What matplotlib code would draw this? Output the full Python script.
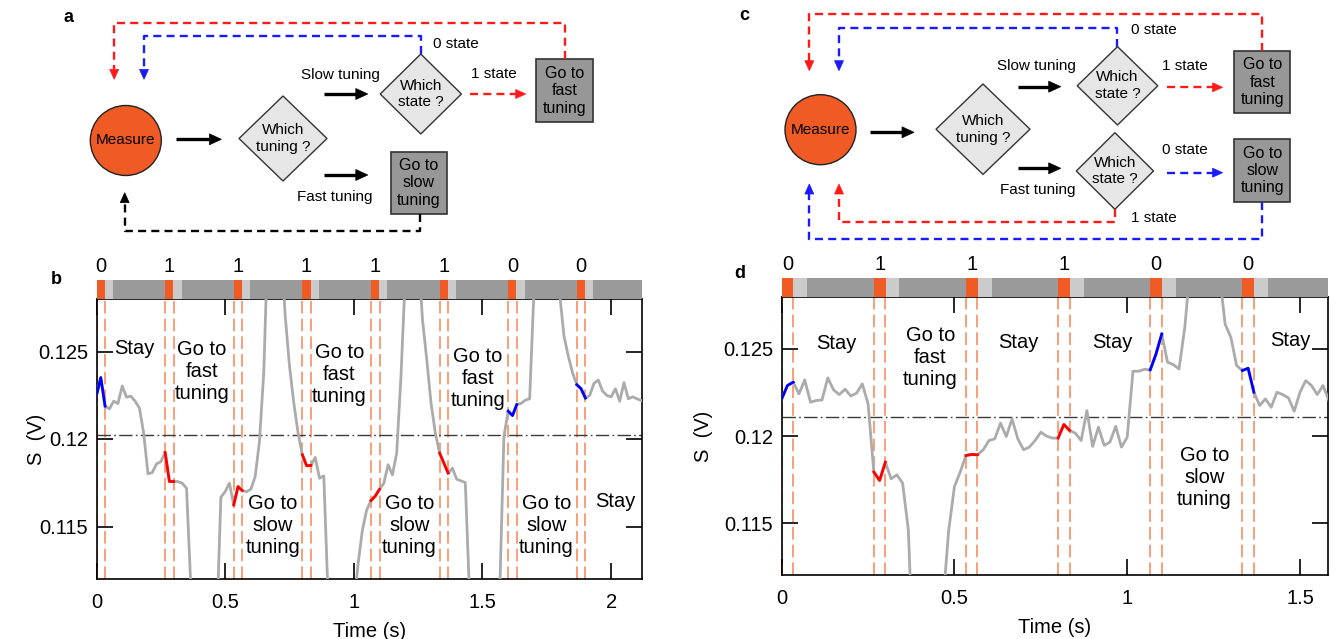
import numpy as np
import matplotlib
matplotlib.use('Agg')
import matplotlib.pyplot as plt
from matplotlib.patches import Ellipse, Polygon, Rectangle

plt.rcParams['font.family'] = ['Liberation Sans', 'DejaVu Sans']

# ---------------- data ----------------
DT = 1 / 60.0          # sampling interval of the trace (s)
WIN = 2                # samples in each measurement window

# panel b : slow/fast tuning protocol 1
b_signal = [0.12249, 0.12351, 0.12188, 0.12172, 0.12216, 0.12203, 0.12303, 0.12239,
            0.12245, 0.12216, 0.12178, 0.12034, 0.11801, 0.11808, 0.11858, 0.11870,
            0.11923, 0.11757, 0.11757, 0.11757, 0.11747, 0.11718, 0.1115, 0.1085,
            0.1070, 0.1060, 0.1060, 0.1070, 0.1091, 0.11667, 0.11699, 0.11747,
            0.11623, 0.11728, 0.11705, 0.11699, 0.11713, 0.11785, 0.11987, 0.12379,
            0.1317, 0.1340, 0.1345, 0.1314, 0.12705, 0.12418, 0.12207, 0.12035,
            0.11910, 0.11847, 0.11849, 0.11895, 0.11776, 0.11789, 0.1110, 0.1080,
            0.1065, 0.1060, 0.1065, 0.1080, 0.1103, 0.11287, 0.11479, 0.11594,
            0.11648, 0.11674, 0.11713, 0.11747, 0.11853, 0.11795, 0.11920, 0.12360,
            0.1293, 0.1330, 0.1335, 0.1308, 0.12686, 0.12456, 0.12207, 0.12035,
            0.11920, 0.11862, 0.11805, 0.11833, 0.11770, 0.11761, 0.11751, 0.1110,
            0.1080, 0.1065, 0.1060, 0.1065, 0.1080, 0.1095, 0.1110, 0.12015,
            0.12159, 0.12134, 0.12197, 0.12203, 0.12222, 0.12230, 0.1284, 0.1320,
            0.1335, 0.1340, 0.1335, 0.1320, 0.1283, 0.12590, 0.12475, 0.12379,
            0.12310, 0.12287, 0.12234, 0.12249, 0.12318, 0.12337, 0.12274, 0.12249,
            0.12241, 0.12287, 0.12216, 0.12322, 0.12230, 0.12241, 0.12230, 0.12220]
b_events = [0.0, 0.2667, 0.5333, 0.8, 1.0667, 1.3333, 1.6, 1.8667]
b_states = [0, 1, 1, 1, 1, 1, 0, 0]
b_threshold = 0.12025
b_texts = ["Stay", "Go to\nfast\ntuning", "Go to\nslow\ntuning", "Go to\nfast\ntuning",
           "Go to\nslow\ntuning", "Go to\nfast\ntuning", "Go to\nslow\ntuning", "Stay"]

# panel d : protocol 2
d_signal = [0.12213, 0.12290, 0.12309, 0.12242, 0.12322, 0.12194, 0.12204, 0.12207,
            0.12334, 0.12265, 0.12238, 0.12269, 0.12230, 0.12246, 0.12299, 0.12185,
            0.11793, 0.11745, 0.11850, 0.11754, 0.11777, 0.11729, 0.11458, 0.1056,
            0.1040, 0.1035, 0.1040, 0.1060, 0.1104, 0.11458, 0.11710, 0.11793,
            0.11888, 0.11894, 0.11892, 0.11921, 0.11974, 0.11984, 0.12074, 0.11997,
            0.12098, 0.11984, 0.11921, 0.11936, 0.11974, 0.12022, 0.11999, 0.11988,
            0.11988, 0.12066, 0.12032, 0.12016, 0.11974, 0.12146, 0.11940, 0.12051,
            0.11946, 0.11965, 0.12055, 0.11936, 0.11993, 0.12372, 0.12372, 0.12383,
            0.12380, 0.12471, 0.12586, 0.12424, 0.12410, 0.12385, 0.12624, 0.1299,
            0.1315, 0.1320, 0.1318, 0.1310, 0.1294, 0.12643, 0.12567, 0.12404,
            0.12376, 0.12389, 0.12251, 0.12175, 0.12213, 0.12165, 0.12251, 0.12238,
            0.12219, 0.12142, 0.12251, 0.12318, 0.12290, 0.12238, 0.12290, 0.12207]
d_events = [0.0, 0.2667, 0.5333, 0.8, 1.0667, 1.3333]
d_states = [0, 1, 1, 1, 0, 0]
d_threshold = 0.12109
d_texts = ["Stay", "Go to\nfast\ntuning", "Stay", "Stay", "Go to\nslow\ntuning", "Stay"]

# ---------------- layout / style ----------------
b_text_pos = [(0.146, 0.12519), (0.41, 0.12383), (0.685, 0.11507), (0.944, 0.12370),
              (1.216, 0.11507), (1.483, 0.12345), (1.749, 0.11507), (2.015, 0.11641)]
d_text_pos = [(0.157, 0.12532), (0.430, 0.12452), (0.686, 0.12538), (0.957, 0.12538),
              (1.223, 0.11764), (1.472, 0.12548)]

ORANGE = '#F05A24'
LIGHT = '#CBCBCB'
DARK = '#9A9A9A'
VLINE = '#F8A07A'
TRACE = '#ABABAB'
RED = '#FF1A1A'
BLUE = '#1A1AFF'
STATE_COL = {0: '#0000FF', 1: '#FF0000'}
FS = 14.5

W, H = 1337, 639
fig = plt.figure(figsize=(W / 100, H / 100), dpi=100)

# ---------------- flowcharts (pixel coordinate overlay) ----------------
fa = fig.add_axes([0, 0, 1, 1])
fa.set_xlim(0, W)
fa.set_ylim(H, 0)
fa.axis('off')

FFS = 11


def ellipse(cx, cy, w, h, text):
    fa.add_patch(Ellipse((cx, cy), w, h, facecolor=ORANGE, edgecolor='#222222', lw=1.0))
    fa.text(cx, cy, text, ha='center', va='center', fontsize=FFS)


def diamond(cx, cy, hw, hh, text):
    fa.add_patch(Polygon([(cx - hw, cy), (cx, cy - hh), (cx + hw, cy), (cx, cy + hh)],
                         closed=True, facecolor='#E6E6E6', edgecolor='#333333', lw=1.0))
    fa.text(cx, cy, text, ha='center', va='center', fontsize=FFS, linespacing=1.25)


def box(x0, y0, x1, y1, text):
    fa.add_patch(Rectangle((x0, y0), x1 - x0, y1 - y0, facecolor='#979797',
                           edgecolor='#333333', lw=1.2))
    fa.text((x0 + x1) / 2, (y0 + y1) / 2, text, ha='center', va='center',
            fontsize=FFS + 0.5, linespacing=1.2)


def head(x0, y0, x1, y1, color, L=10, hw=4.5):
    d = np.array([x1 - x0, y1 - y0], float)
    d /= np.hypot(*d)
    n = np.array([-d[1], d[0]])
    tip = np.array([x1, y1])
    base = tip - d * L
    fa.add_patch(Polygon([tip, base + n * hw, base - n * hw], closed=True,
                         facecolor=color, edgecolor=color, lw=0.5))
    return base


def solid_arrow(x0, y, x1):
    base = head(x0, y, x1, y, 'k', L=12, hw=5.5)
    fa.plot([x0, base[0]], [y, y], color='k', lw=2.4, solid_capstyle='butt')


def dashed_arrow(pts, color):
    (xa, ya), (xb, yb) = pts[-2], pts[-1]
    base = head(xa, ya, xb, yb, color, L=10, hw=4.5)
    xs = [p[0] for p in pts[:-1]] + [base[0]]
    ys = [p[1] for p in pts[:-1]] + [base[1]]
    fa.plot(xs, ys, color=color, lw=1.7, dashes=(3.4, 2.2), solid_capstyle='butt')


# panel a
ellipse(125.8, 140.5, 71, 70, "Measure")
solid_arrow(176, 139.3, 221.4)
diamond(283, 138.5, 44, 42.5, "Which\ntuning ?")
solid_arrow(324.4, 94, 367.8)
fa.text(340, 75, "Slow tuning", ha='center', va='center', fontsize=FFS)
solid_arrow(324.4, 175, 367.8)
fa.text(334.9, 197.3, "Fast tuning", ha='center', va='center', fontsize=FFS)
diamond(420.8, 94, 40.6, 40, "Which\nstate ?")
fa.text(456, 44, "0 state", ha='center', va='center', fontsize=FFS)
fa.text(493.6, 74, "1 state", ha='center', va='center', fontsize=FFS)
dashed_arrow([(470.4, 94), (525.7, 94)], RED)
box(536, 59.3, 593, 122.3, "Go to\nfast\ntuning")
box(391, 151.7, 447, 214, "Go to\nslow\ntuning")
dashed_arrow([(420.8, 54), (420.8, 36), (144, 36), (144, 79.3)], BLUE)
dashed_arrow([(564.5, 59.3), (564.5, 22.7), (114.2, 22.7), (114.2, 79.3)], RED)
dashed_arrow([(420, 214), (420, 231), (124.7, 231), (124.7, 192.7)], 'k')

# panel c
ellipse(820.5, 129.7, 71, 70, "Measure")
solid_arrow(870, 132.3, 914)
diamond(983, 129.2, 47, 45.2, "Which\ntuning ?")
solid_arrow(1017.9, 86.7, 1060.7)
fa.text(1036, 66, "Slow tuning", ha='center', va='center', fontsize=FFS)
solid_arrow(1017.9, 168.3, 1060.7)
fa.text(1038, 190, "Fast tuning", ha='center', va='center', fontsize=FFS)
diamond(1117.5, 85.8, 40.3, 39.2, "Which\nstate ?")
diamond(1114.9, 171, 38.6, 38.3, "Which\nstate ?")
fa.text(1154, 30, "0 state", ha='center', va='center', fontsize=FFS)
fa.text(1184.4, 66, "1 state", ha='center', va='center', fontsize=FFS)
fa.text(1184.4, 150, "0 state", ha='center', va='center', fontsize=FFS)
fa.text(1154, 218.3, "1 state", ha='center', va='center', fontsize=FFS)
dashed_arrow([(1166.6, 87.3), (1222.6, 87.3)], RED)
dashed_arrow([(1166.6, 172.7), (1222.6, 172.7)], BLUE)
box(1234, 51, 1290.4, 113.3, "Go to\nfast\ntuning")
box(1234, 139.3, 1290.4, 201.7, "Go to\nslow\ntuning")
dashed_arrow([(1262, 51), (1262, 14), (809.3, 14), (809.3, 70.7)], RED)
dashed_arrow([(1116.6, 46.6), (1116.6, 28.3), (839, 28.3), (839, 70.7)], BLUE)
dashed_arrow([(1115.4, 209.3), (1115.4, 221.7), (839, 221.7), (839, 184)], RED)
dashed_arrow([(1262, 201.7), (1262, 239.3), (809.3, 239.3), (809.3, 184)], BLUE)

fa.text(69, 18, "a", ha='center', va='center', fontsize=13, fontweight='bold')
fa.text(744, 16, "c", ha='center', va='center', fontsize=13, fontweight='bold')
fa.text(56, 279, "b", ha='center', va='center', fontsize=13, fontweight='bold')
fa.text(740, 273, "d", ha='center', va='center', fontsize=13, fontweight='bold')


# ---------------- time-trace panels ----------------
def trace_panel(rect, bar_h, signal, events, states, thr, texts, tpos, xmax,
                xticks, xticklabels, orange_w, light_w, ylab_x):
    ax = fig.add_axes(rect)
    bar = fig.add_axes([rect[0], rect[1] + rect[3], rect[2], bar_h], sharex=ax)
    t = np.arange(len(signal)) * DT
    v = np.asarray(signal)
    ax.plot(t, v, color=TRACE, lw=2.0, zorder=3)
    for ev, st in zip(events, states):
        i0 = int(round(ev / DT))
        ax.plot(t[i0:i0 + WIN + 1], v[i0:i0 + WIN + 1], color=STATE_COL[st], lw=2.0, zorder=4)
        for xv in (ev, ev + WIN * DT):
            ax.axvline(xv, color=VLINE, lw=1.4, dashes=(6.5, 2.6), zorder=2)
        bar.axvspan(ev, ev + orange_w, color=ORANGE, lw=0)
        bar.axvspan(ev + orange_w, ev + orange_w + light_w, color=LIGHT, lw=0)
        bar.text(ev + orange_w / 2, 1.2, str(st), ha='center', va='bottom',
                 fontsize=FS, transform=bar.get_xaxis_transform())
    ax.axhline(thr, color='#3A3A3A', lw=1.0, dashes=(9.6, 2.4, 1.2, 2.4), zorder=2)
    for s, (x, y) in zip(texts, tpos):
        ax.text(x, y, s, ha='center', va='center', fontsize=FS, linespacing=1.2, zorder=5)
    ax.set_xlim(0, xmax)
    ax.set_ylim(0.112, 0.128)
    ax.set_xticks(xticks)
    ax.set_xticklabels(xticklabels)
    ax.set_yticks([0.115, 0.12, 0.125])
    ax.set_yticklabels(['0.115', '0.12', '0.125'])
    ax.tick_params(direction='in', length=11.5, width=1.2, top=True, right=True,
                   labelsize=FS, pad=6)
    ax.tick_params(axis='x', pad=10)
    for sp in ax.spines.values():
        sp.set_linewidth(1.2)
    ax.set_xlabel('Time (s)', fontsize=FS, labelpad=7)
    ax.set_ylabel('S  (V)', fontsize=FS)
    ax.yaxis.set_label_coords(ylab_x, 0.5)
    bar.set_facecolor(DARK)
    bar.set_ylim(0, 1)
    bar.tick_params(left=False, bottom=False, labelleft=False, labelbottom=False)
    for sp in bar.spines.values():
        sp.set_visible(False)
    return ax


trace_panel([96.5 / W, 1 - 579 / H, 545.5 / W, 280 / H], 19 / H,
            b_signal, b_events, b_states, b_threshold, b_texts, b_text_pos, 2.12,
            [0, 0.5, 1, 1.5, 2], ['0', '0.5', '1', '1.5', '2'], 0.032, 0.032, -0.092)
trace_panel([781.7 / W, 1 - 575.3 / H, 546.6 / W, 278.6 / H], 19 / H,
            d_signal, d_events, d_states, d_threshold, d_texts, d_text_pos, 1.582,
            [0, 0.5, 1, 1.5], ['0', '0.5', '1', '1.5'], 0.034, 0.040, -0.125)

fig.savefig('out.png', dpi=100)
